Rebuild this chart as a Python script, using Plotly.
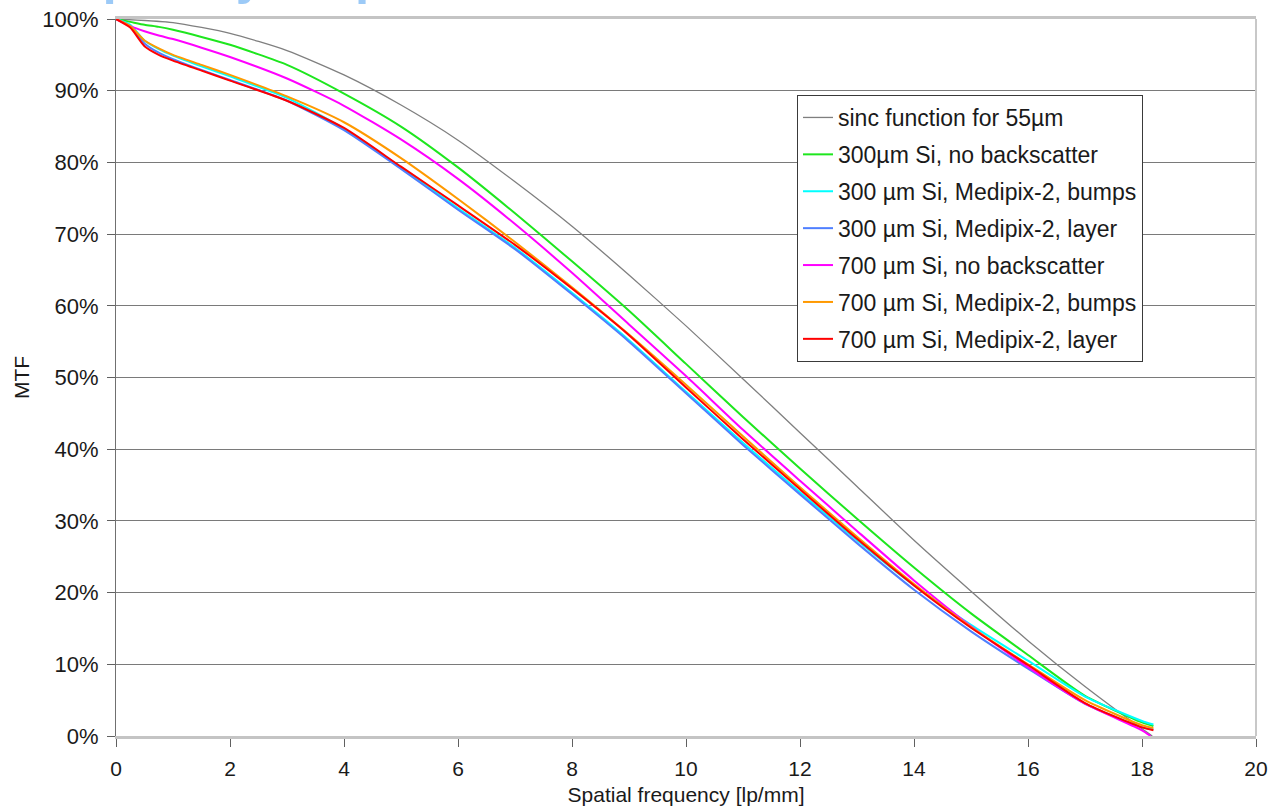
import plotly.graph_objects as go

# ---- data ----
freq = [0, 0.25, 0.5, 0.75, 1, 1.5, 2, 3, 4, 5, 6, 7, 8, 9, 10, 11, 12, 13, 14, 15, 16, 17, 18, 18.2]
freq_sinc = [0, 1, 2, 3, 4, 5, 6, 7, 8, 9, 10, 11, 12, 13, 14, 15, 16, 17, 18, 18.18]
freq_m = [0, 0.25, 0.5, 0.75, 1, 1.5, 2, 3, 4, 5, 6, 7, 8, 9, 10, 11, 12, 13, 14, 15, 16, 17, 18, 18.15]

sinc_55 = [100, 99.5, 98.0, 95.6, 92.2, 88.0, 83.1, 77.3, 71.1, 64.3, 57.2, 49.8, 42.3, 34.8, 27.3, 20.2, 13.3, 6.9, 1.0, 0.0]
si300_nobs = [100, 99.6, 99.2, 98.9, 98.5, 97.5, 96.4, 93.6, 89.6, 85.0, 79.3, 72.9, 66.2, 59.3, 51.9, 44.5, 37.3, 30.3, 23.5, 17.1, 11.3, 5.6, 1.9, 1.4]
si300_bumps = [100, 99.2, 97.0, 95.8, 94.9, 93.4, 92.0, 89.0, 84.7, 79.3, 73.6, 68.1, 61.8, 55.2, 48.0, 40.9, 34.0, 27.3, 21.0, 15.5, 10.5, 5.5, 2.1, 1.6]
si300_layer = [100, 99.0, 96.6, 95.3, 94.4, 92.9, 91.5, 88.6, 84.5, 79.1, 73.4, 67.9, 61.6, 55.0, 47.8, 40.6, 33.7, 26.9, 20.4, 14.6, 9.4, 4.5, 1.2, 0.9]
si700_nobs = [100, 99.0, 98.3, 97.7, 97.2, 96.0, 94.7, 91.7, 87.9, 83.2, 77.7, 71.4, 64.6, 57.4, 50.2, 42.7, 35.6, 28.6, 21.7, 15.3, 9.6, 4.5, 0.8, 0.0]
si700_bumps = [100, 99.0, 97.0, 95.9, 95.0, 93.6, 92.2, 89.2, 85.6, 80.6, 74.9, 68.9, 62.6, 56.0, 49.0, 41.8, 34.7, 27.8, 21.2, 15.2, 10.0, 5.0, 1.5, 1.1]
si700_layer = [100, 98.8, 96.2, 95.0, 94.2, 92.8, 91.4, 88.6, 84.8, 79.4, 74.0, 68.5, 62.4, 55.9, 48.6, 41.4, 34.4, 27.5, 21.0, 15.1, 9.9, 4.6, 1.2, 0.8]

x_ticks = [0, 2, 4, 6, 8, 10, 12, 14, 16, 18, 20]
y_ticks = [0, 10, 20, 30, 40, 50, 60, 70, 80, 90, 100]
y_tick_text = [f"{v}%" for v in y_ticks]

series = [
    ("sinc function for 55µm", freq_sinc, sinc_55, "#7f7f7f", 1.3),
    ("300µm Si, no backscatter", freq, si300_nobs, "#1ee61e", 2),
    ("300 µm Si, Medipix-2, bumps", freq, si300_bumps, "#00ffff", 2),
    ("300 µm Si, Medipix-2, layer", freq, si300_layer, "#4f7fff", 2),
    ("700 µm Si, no backscatter", freq_m, si700_nobs, "#ff00ff", 2),
    ("700 µm Si, Medipix-2, bumps", freq, si700_bumps, "#ff9900", 2),
    ("700 µm Si, Medipix-2, layer", freq, si700_layer, "#ff0000", 2),
]

FONT = "Liberation Sans, Arial, sans-serif"

fig = go.Figure()
for i, (name, xs, ys, col, w) in enumerate(series):
    fig.add_trace(go.Scatter(
        x=xs, y=ys, mode="lines", name=name, legendgroup=f"g{i}",
        line=dict(color=col, width=w, shape="spline", smoothing=0.6),
    ))

fig.update_layout(
    width=1273, height=806,
    margin=dict(l=116, r=17, t=19, b=70, autoexpand=False),
    paper_bgcolor="white", plot_bgcolor="white",
    font=dict(family=FONT, size=22, color="#1a1a1a"),
    showlegend=True,
    legend=dict(
        x=(797 - 116) / 1140, y=(736 - 95) / 717, xanchor="left", yanchor="top",
        bgcolor="white", bordercolor="#3a3a3a", borderwidth=1,
        font=dict(family=FONT, size=23, color="#1a1a1a"),
        tracegroupgap=4, itemwidth=30,
    ),
    xaxis=dict(
        range=[0, 20], tickvals=x_ticks, ticktext=[str(v) for v in x_ticks],
        showgrid=False, zeroline=False, automargin=False,
        showline=True, linecolor="#c4c4c4", linewidth=3, mirror=True,
        ticks="outside", ticklen=8, tickcolor="#606060", tickwidth=1,
        tickfont=dict(size=21), ticklabelstandoff=4,
        title=dict(text="Spatial frequency [lp/mm]", font=dict(size=21), standoff=14),
    ),
    yaxis=dict(
        range=[0, 100], tickvals=y_ticks, ticktext=y_tick_text,
        showgrid=True, gridcolor="#7a7a7a", gridwidth=1, zeroline=False, automargin=False,
        showline=True, linecolor="#707070", linewidth=1,
        ticks="outside", ticklen=8, tickcolor="#606060", tickwidth=1,
        tickfont=dict(size=22), ticklabelstandoff=4,
        title=dict(text="MTF", font=dict(size=21), standoff=6),
    ),
    shapes=[
        dict(type="line", xref="paper", yref="paper", x0=1, x1=1, y0=0, y1=1,
             line=dict(color="#c8c8c8", width=2), layer="above"),
    ],
    annotations=[
        dict(text="<b>Spatial frequency response</b>", xref="paper", yref="paper",
             x=(-163 - 116) / 1140, y=1, xanchor="left", yanchor="bottom", yshift=13,
             showarrow=False, font=dict(family=FONT, size=51, color="#9ccaf7")),
    ],
)

fig.write_html("out.html")
